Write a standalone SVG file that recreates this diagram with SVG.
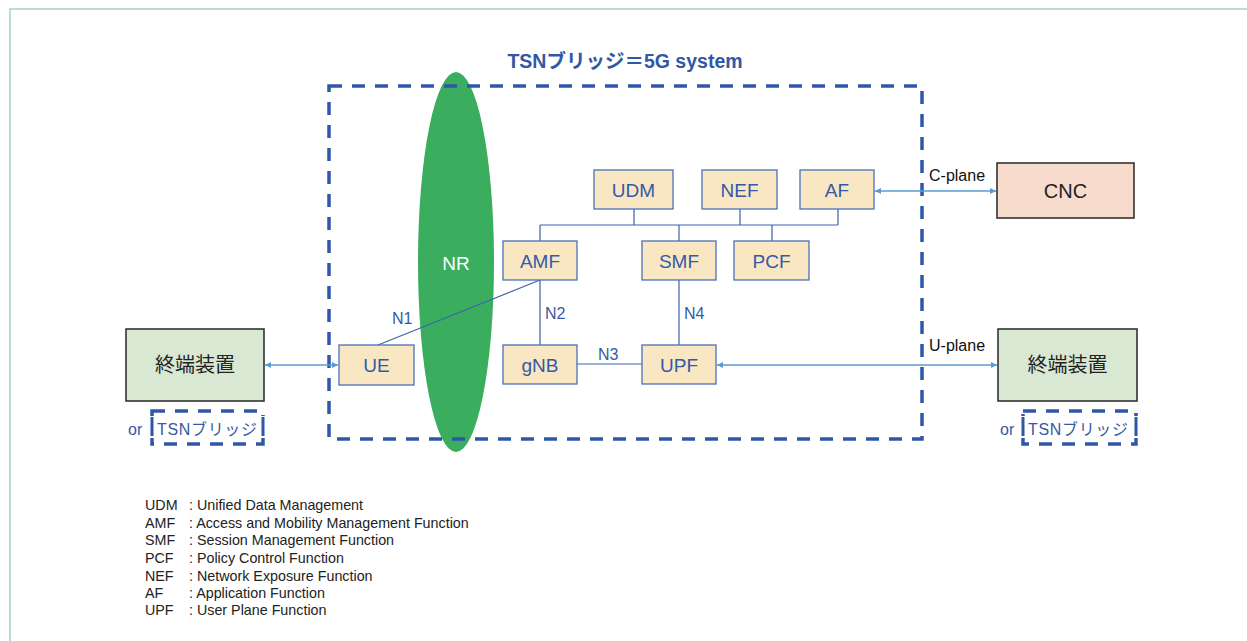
<svg xmlns="http://www.w3.org/2000/svg" width="1247" height="641" viewBox="0 0 1247 641">
<style>
.nf{fill:#f9e7c4;stroke:#4a70b8;stroke-width:1.3}
.nt{font-family:"Liberation Sans",Arial,sans-serif;font-size:19px;fill:#3559a6;text-anchor:middle}
.term{fill:#d8e8d3;stroke:#333;stroke-width:1.6}
.jt{font-family:"Liberation Sans","Noto Sans CJK JP",sans-serif;font-size:20px;fill:#222;text-anchor:middle}
.dash{fill:none;stroke:#2e57a8;stroke-width:3.5;stroke-dasharray:13 10}
.ln{fill:none;stroke:#3d63b0;stroke-width:1.2}
.arr{fill:none;stroke:#5a9bd5;stroke-width:1.5;marker-start:url(#ah);marker-end:url(#ah)}
.lbl{font-family:"Liberation Sans",Arial,sans-serif;font-size:16px;fill:#3559a6}
.bl{font-family:"Liberation Sans",Arial,sans-serif;font-size:16px;fill:#111}
.or{font-family:"Liberation Sans","Noto Sans CJK JP",sans-serif;font-size:16px;fill:#3559a6}
.lg{font-family:"Liberation Sans",Arial,sans-serif;font-size:14.3px;fill:#222}
</style>
<defs>
<marker id="ah" viewBox="0 0 10 10" refX="10" refY="5" markerWidth="6" markerHeight="6" orient="auto-start-reverse" markerUnits="userSpaceOnUse">
<path d="M0,0 L10,5 L0,10 z" fill="#5a9bd5"/>
</marker>
</defs>
<rect width="1247" height="641" fill="#fff"/>
<rect x="10" y="9" width="1260" height="660" fill="none" stroke="#b9ddd6" stroke-width="2"/>

<text x="625" y="68" text-anchor="middle" font-family="Liberation Sans,Noto Sans CJK JP,sans-serif" font-size="19.5" font-weight="bold" fill="#3157a6">TSNブリッジ＝5G system</text>

<g id="NR">
<ellipse cx="456" cy="262" rx="38" ry="190" fill="#3aae5e"/>
<text x="456" y="270" text-anchor="middle" font-family="Liberation Sans,Arial,sans-serif" font-size="19" fill="#fff">NR</text>
</g>

<g id="system-boundary">
<rect x="329" y="86" width="593" height="353" class="dash"/>
</g>

<g id="connectors">
<path class="ln" d="M540,225 H838 M634,209 V225 M740,209 V225 M838,209 V225 M540,225 V241 M679,225 V241 M772,225 V241"/>
<path class="ln" d="M540,280 V345 M679,280 V345 M577,364 H642 M378,345 L540,280"/>
<line class="arr" x1="265" y1="365" x2="338" y2="365"/>
<line class="arr" x1="717" y1="365" x2="997" y2="365"/>
<line class="arr" x1="875" y1="191" x2="996" y2="191"/>
<text class="lbl" x="392" y="324">N1</text>
<text class="lbl" x="545" y="319">N2</text>
<text class="lbl" x="684" y="319">N4</text>
<text class="lbl" x="598" y="360">N3</text>
<text class="bl" x="929" y="181">C-plane</text>
<text class="bl" x="929" y="351">U-plane</text>
</g>

<g id="UDM"><rect class="nf" x="594" y="170" width="79" height="39"/><text class="nt" x="633.5" y="196.5">UDM</text></g>
<g id="NEF"><rect class="nf" x="702" y="170" width="75" height="39"/><text class="nt" x="739.5" y="196.5">NEF</text></g>
<g id="AF"><rect class="nf" x="800" y="170" width="74" height="39"/><text class="nt" x="837" y="196.5">AF</text></g>
<g id="AMF"><rect class="nf" x="503" y="241" width="74" height="39"/><text class="nt" x="540" y="267.5">AMF</text></g>
<g id="SMF"><rect class="nf" x="642" y="241" width="74" height="39"/><text class="nt" x="679" y="267.5">SMF</text></g>
<g id="PCF"><rect class="nf" x="734" y="241" width="75" height="39"/><text class="nt" x="771.5" y="267.5">PCF</text></g>
<g id="gNB"><rect class="nf" x="503" y="345" width="74" height="39"/><text class="nt" x="540" y="371.5">gNB</text></g>
<g id="UPF"><rect class="nf" x="642" y="345" width="74" height="39"/><text class="nt" x="679" y="371.5">UPF</text></g>
<g id="UE"><rect class="nf" x="339" y="345" width="75" height="40"/><text class="nt" x="376.5" y="372">UE</text></g>

<g id="CNC"><rect x="997" y="163" width="137" height="55" fill="#f7dccd" stroke="#333" stroke-width="1.6"/><text class="jt" x="1065.5" y="197.5">CNC</text></g>

<g id="terminal-left">
<rect class="term" x="126" y="329" width="138" height="72"/>
<text class="jt" x="195" y="372">終端装置</text>
<rect x="152" y="411" width="111" height="33" class="dash" stroke-width="3"/>
<rect x="145" y="416" width="124" height="22" fill="#fff"/>
<rect x="150.5" y="417" width="3" height="19" fill="#2e57a8"/>
<rect x="261.5" y="417" width="3" height="19" fill="#2e57a8"/>
<text class="or" x="128" y="434.5">or</text>
<text class="or" x="157" y="434.5" textLength="100">TSNブリッジ</text>
</g>

<g id="terminal-right">
<rect class="term" x="998" y="329" width="139" height="72"/>
<text class="jt" x="1067.5" y="372">終端装置</text>
<rect x="1023" y="411" width="113" height="33" class="dash" stroke-width="3"/>
<rect x="1016" y="416" width="126" height="22" fill="#fff"/>
<rect x="1021.5" y="417" width="3" height="19" fill="#2e57a8"/>
<rect x="1134.5" y="417" width="3" height="19" fill="#2e57a8"/>
<text class="or" x="1000" y="434.5">or</text>
<text class="or" x="1028" y="434.5" textLength="100">TSNブリッジ</text>
</g>

<g id="legend" class="lg">
<text x="145" y="509.5">UDM</text><text x="189" y="509.5">: Unified Data Management</text>
<text x="145" y="527.5">AMF</text><text x="189" y="527.5">: Access and Mobility Management Function</text>
<text x="145" y="545">SMF</text><text x="189" y="545">: Session Management Function</text>
<text x="145" y="562.5">PCF</text><text x="189" y="562.5">: Policy Control Function</text>
<text x="145" y="580.5">NEF</text><text x="189" y="580.5">: Network Exposure Function</text>
<text x="145" y="597.5">AF</text><text x="189" y="597.5">: Application Function</text>
<text x="145" y="615">UPF</text><text x="189" y="615">: User Plane Function</text>
</g>
</svg>
